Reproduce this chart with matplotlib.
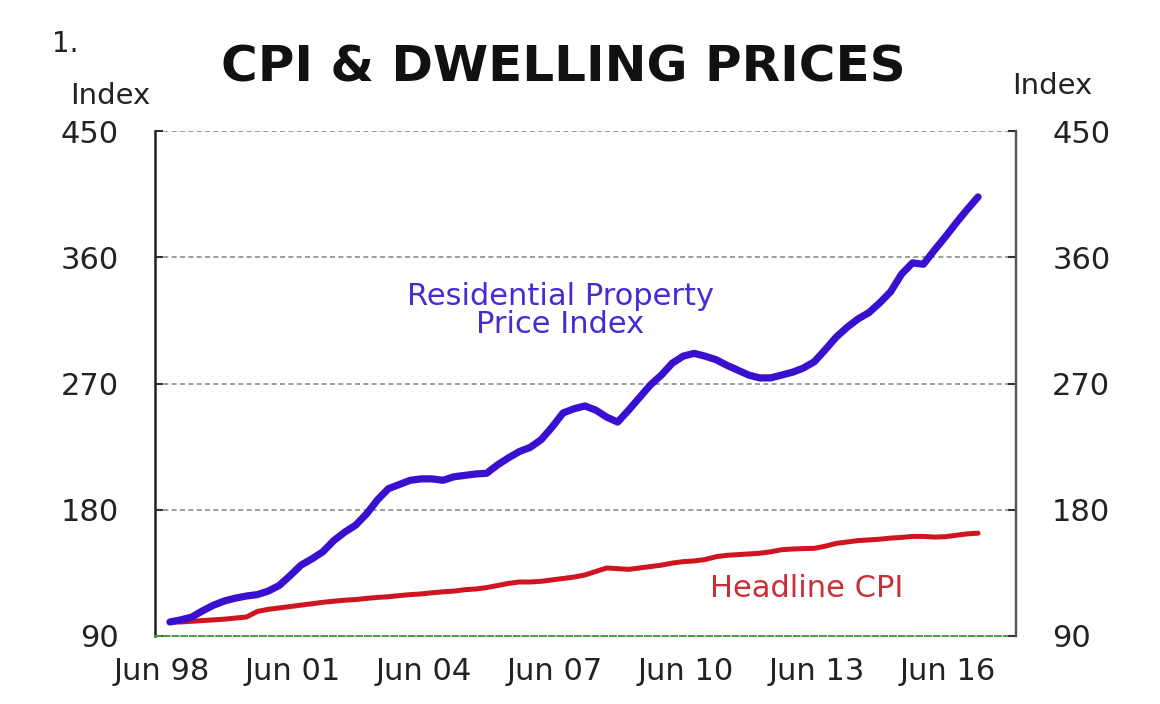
import pandas as pd
import numpy as np
import matplotlib
matplotlib.use('Agg')
import matplotlib.pyplot as plt

plt.rcParams['font.family'] = ['DejaVu Sans']

# quarterly, Jun 98 to Dec 16 (index, Jun 98 = 100)
quarters = pd.period_range('1998Q2', '2016Q4', freq='Q')
rppi = [100, 101.5, 103.5, 108, 112, 115, 117, 118.5, 119.5, 122,
        126, 133, 140.5, 145, 150, 158, 164, 169, 177, 187,
        195, 198, 201, 202, 202, 201, 203.5, 204.5, 205.5, 206,
        212, 217, 221.5, 224.5, 230, 239, 249, 252, 254, 251,
        246, 242.5, 251, 260, 269, 276, 284.5, 289.5, 291.5, 289.5,
        287, 283, 279.5, 276, 274, 274, 276, 278, 281, 285.5,
        294, 303, 310, 316, 320.5, 327.5, 335.5, 348, 356, 355,
        365, 374.5, 384.5, 394, 403]
cpi = [100, 100, 100.5, 101, 101.5, 102, 102.8, 103.5, 107.5, 109,
       110, 111, 112, 113, 114, 114.8, 115.5, 116, 116.8, 117.5,
       118, 118.8, 119.5, 120, 120.8, 121.5, 122, 123, 123.5, 124.5,
       126, 127.5, 128.5, 128.5, 129, 130, 131, 132, 133.5, 136,
       138.5, 138, 137.5, 138.5, 139.5, 140.5, 142, 143, 143.5, 144.5,
       146.5, 147.5, 148, 148.5, 149, 150, 151.5, 152, 152.3, 152.5,
       154, 156, 157, 158, 158.5, 159, 159.8, 160.3, 161, 161,
       160.5, 160.8, 161.8, 162.8, 163.3]
tick_years = [1998, 2001, 2004, 2007, 2010, 2013, 2016]
tick_labels = ['Jun 98', 'Jun 01', 'Jun 04', 'Jun 07', 'Jun 10', 'Jun 13', 'Jun 16']
y_ticks = [90, 180, 270, 360, 450]

x = np.array([p.year + (p.quarter * 3 - 1) / 12 for p in quarters])

fig = plt.figure(figsize=(11.6, 7.04), dpi=100)
ax = fig.add_axes([0.1336, 0.0966, 0.7423, 0.7173])

for yv in y_ticks[1:]:
    ax.axhline(yv, color='#8c8c8c', lw=1.2, ls=(0, (3, 2)), zorder=1)

ax.plot(x, cpi, color='#d01420', lw=3.6, solid_capstyle='round', zorder=3)
ax.plot(x, rppi, color='#3a10d0', lw=5.2, solid_capstyle='round',
        solid_joinstyle='round', zorder=4)

ax.set_xlim(x[0] - 0.343, x[-1] + 0.87)
ax.set_ylim(90, 450)

ax.set_xticks([yr + 0.22 for yr in tick_years])
ax.set_xticklabels(tick_labels)
ax.set_yticks(y_ticks)
ax.tick_params(axis='x', length=0, pad=15, labelsize=22, labelcolor='#222222')
ax.tick_params(axis='y', direction='in', length=6, width=1.5, color='#333333',
               pad=26, labelsize=22, labelcolor='#222222')

ax.spines['top'].set_visible(False)
ax.spines['left'].set_color('#222222')
ax.spines['left'].set_linewidth(1.8)
ax.spines['right'].set_color('#555555')
ax.spines['right'].set_linewidth(1.6)
ax.spines['bottom'].set_color('#4f9a3c')
ax.spines['bottom'].set_linestyle((0, (3, 1.5)))
ax.spines['bottom'].set_linewidth(1.4)

ax2 = ax.twinx()
ax2.set_ylim(90, 450)
ax2.set_yticks(y_ticks)
ax2.tick_params(axis='y', direction='in', length=6, width=1.5, color='#333333',
                pad=26, labelsize=22, labelcolor='#222222')
for s in ['top', 'left', 'bottom']:
    ax2.spines[s].set_visible(False)
ax2.spines['right'].set_color('#555555')
ax2.spines['right'].set_linewidth(1.6)

ax.text(2007.35, 322, 'Residential Property\nPrice Index', color='#4a2ad2',
        fontsize=22, ha='center', va='center', linespacing=0.92)
ax.text(2013.0, 124, 'Headline CPI', color='#c83038', fontsize=22,
        ha='center', va='center')

fig.text(52 / 1160, 1 - 44 / 704, '1.', fontsize=20, color='#222222', va='center')
fig.text(563 / 1160, 1 - 67 / 704, 'CPI & DWELLING PRICES', fontsize=36,
         fontweight='bold', color='#111111', ha='center', va='center')
fig.text(110 / 1160, 1 - 96 / 704, 'Index', fontsize=21, color='#222222',
         ha='center', va='center')
fig.text(1052 / 1160, 1 - 86 / 704, 'Index', fontsize=21, color='#222222',
         ha='center', va='center')

fig.savefig('out.png', dpi=100)
